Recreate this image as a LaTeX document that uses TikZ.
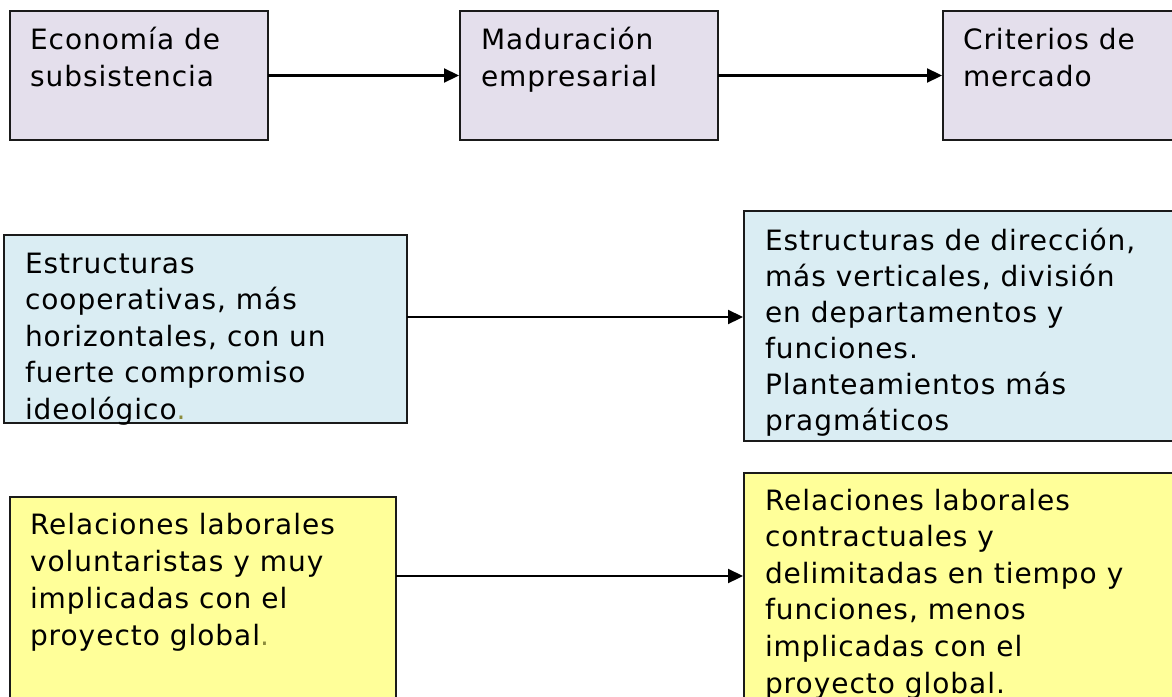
\documentclass[tikz,border=0pt]{standalone}
\usepackage{fontspec}
\setmainfont{DejaVu Sans}[LetterSpace=3.5]
\usetikzlibrary{arrows.meta}
\definecolor{lav}{HTML}{E4DFEC}
\definecolor{lblue}{HTML}{DAEDF3}
\definecolor{lyel}{HTML}{FFFF99}
\definecolor{edge}{HTML}{1A1A1A}
\definecolor{olivedot}{HTML}{8C8C3C}
\tikzset{
  box/.style={draw=edge, line width=2pt, anchor=north west, inner sep=0pt, outer sep=0pt},
  txt/.style={anchor=north west, inner sep=0pt, outer sep=0pt, align=left, text=black,
              font={\fontsize{28}{#1}\selectfont}},
  arr/.style={draw=black, line width=2.2pt, -{Triangle[length=15pt,width=14pt]}, shorten >=1pt}
}
\begin{document}
\begin{tikzpicture}[x=1pt,y=-1pt]
\clip (0,0) rectangle (1172,696);
\fill[white] (0,0) rectangle (1172,696);
% row 1
\node[box, fill=lav, minimum width=258pt, minimum height=129pt] (b1) at (10,11) {};
\node[box, fill=lav, minimum width=258pt, minimum height=129pt] (b2) at (460,11) {};
\node[box, fill=lav, minimum width=260pt, minimum height=129pt] (b3) at (943,11) {};
\node[txt=37] (t1) at (30,{49-25.9}) {\strut Economía de\\subsistencia};
\node[txt=37] (t2) at (481,{49-25.9}) {\strut Maduración\\empresarial};
\node[txt=37] (t3) at (963,{49-25.9}) {\strut Criterios de\\mercado};
\draw[arr] (b1.east) -- (b2.west);
\draw[arr] (b2.east) -- (b3.west);
% row 2
\node[box, fill=lblue, minimum width=403pt, minimum height=188pt] (b4) at (4,235) {};
\node[box, fill=lblue, minimum width=440pt, minimum height=230pt] (b5) at (744,211) {};
\node[txt=36.6] (t4) at (25,{273-25.6}) {\strut Estructuras\\cooperativas, más\\horizontales, con un\\fuerte compromiso\\ideológico\textcolor{olivedot}{.}};
\node[txt=36] (t5) at (765,{250-25.2}) {\strut Estructuras de dirección,\\más verticales, división\\en departamentos y\\funciones.\\Planteamientos más\\pragmáticos};
\coordinate (m2) at (0,317);
\draw[arr] (b4.east |- m2) -- (b5.west |- m2);
% row 3
\node[box, fill=lyel, minimum width=386pt, minimum height=230pt] (b6) at (10,497) {};
\node[box, fill=lyel, minimum width=440pt, minimum height=260pt] (b7) at (744,473) {};
\node[txt=37.3] (t6) at (30,{534-26.1}) {\strut Relaciones laborales\\voluntaristas y muy\\implicadas con el\\proyecto global\textcolor{olivedot}{.}};
\node[txt=36.6] (t7) at (765,{510-25.6}) {\strut Relaciones laborales\\contractuales y\\delimitadas en tiempo y\\funciones, menos\\implicadas con el\\proyecto global.};
\coordinate (m3) at (0,576);
\draw[arr] (b6.east |- m3) -- (b7.west |- m3);
\end{tikzpicture}
\end{document}
